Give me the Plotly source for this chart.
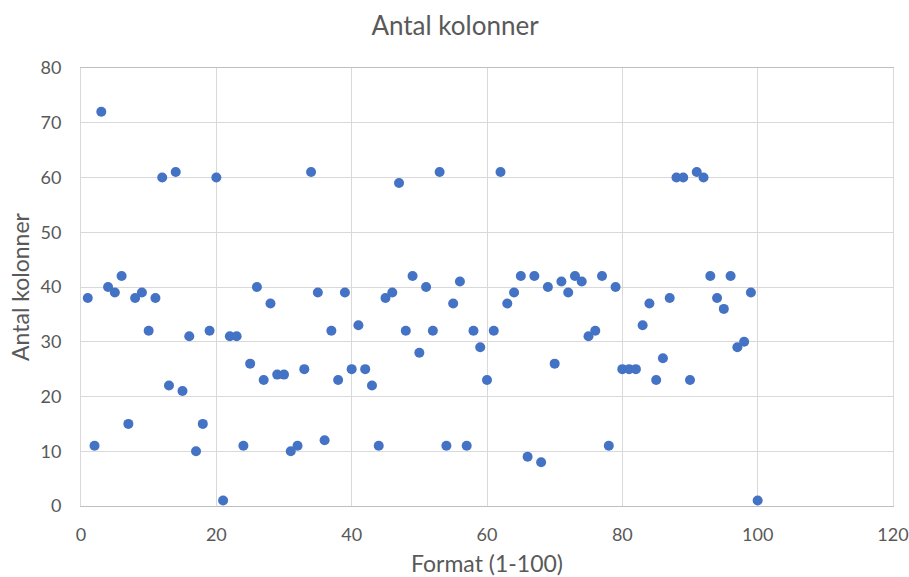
import plotly.graph_objects as go

format_ids = list(range(1, 101))
antal_kolonner = [
    38, 11, 72, 40, 39, 42, 15, 38, 39, 32,
    38, 60, 22, 61, 21, 31, 10, 15, 32, 60,
    1, 31, 31, 11, 26, 40, 23, 37, 24, 24,
    10, 11, 25, 61, 39, 12, 32, 23, 39, 25,
    33, 25, 22, 11, 38, 39, 59, 32, 42, 28,
    40, 32, 61, 11, 37, 41, 11, 32, 29, 23,
    32, 61, 37, 39, 42, 9, 42, 8, 40, 26,
    41, 39, 42, 41, 31, 32, 42, 11, 40, 25,
    25, 25, 33, 37, 23, 27, 38, 60, 60, 23,
    61, 60, 42, 38, 36, 42, 29, 30, 39, 1,
]
x_ticks = [0, 20, 40, 60, 80, 100, 120]
y_ticks = [0, 10, 20, 30, 40, 50, 60, 70, 80]

font_family = "Lato, 'Open Sans', sans-serif"
gray = "#595959"
grid = "#d9d9d9"

W, H = 909, 577

fig = go.Figure(
    go.Scatter(
        x=format_ids,
        y=antal_kolonner,
        mode="markers",
        marker=dict(color="#4472c4", size=10, line=dict(width=0)),
        showlegend=False,
    )
)

fig.update_layout(
    width=W,
    height=H,
    paper_bgcolor="white",
    plot_bgcolor="white",
    margin=dict(l=81, r=16, t=68, b=71),
    font=dict(family=font_family, color=gray, size=18),
    title=dict(
        text="Antal kolonner",
        x=455 / W,
        xanchor="center",
        y=1 - 26 / H,
        yanchor="middle",
        font=dict(size=26, color=gray, family=font_family),
    ),
)

fig.update_xaxes(
    range=[0, 120],
    tickvals=x_ticks,
    ticktext=[str(v) for v in x_ticks],
    showgrid=True,
    gridcolor=grid,
    gridwidth=1,
    zeroline=False,
    showline=True,
    linecolor="#bfbfbf",
    linewidth=1,
    ticks="",
    ticklabelstandoff=12,
    tickfont=dict(size=18, color=gray),
    title=dict(text="Format (1-100)", font=dict(size=23, color=gray), standoff=19),
    mirror=True,
    automargin=False,
)
fig.update_yaxes(
    range=[0, 80],
    tickvals=y_ticks,
    ticktext=[str(v) for v in y_ticks],
    showgrid=True,
    gridcolor=grid,
    gridwidth=1,
    zeroline=False,
    showline=True,
    linecolor=grid,
    linewidth=1,
    ticks="",
    ticklabelstandoff=15,
    tickfont=dict(size=18, color=gray),
    title=dict(text="Antal kolonner", font=dict(size=23, color=gray), standoff=4),
    mirror=True,
    automargin=False,
)

fig.write_html(
    "out.html",
    config={"displayModeBar": False},
    post_script="document.body.style.margin='0';document.body.style.overflow='hidden';",
)
